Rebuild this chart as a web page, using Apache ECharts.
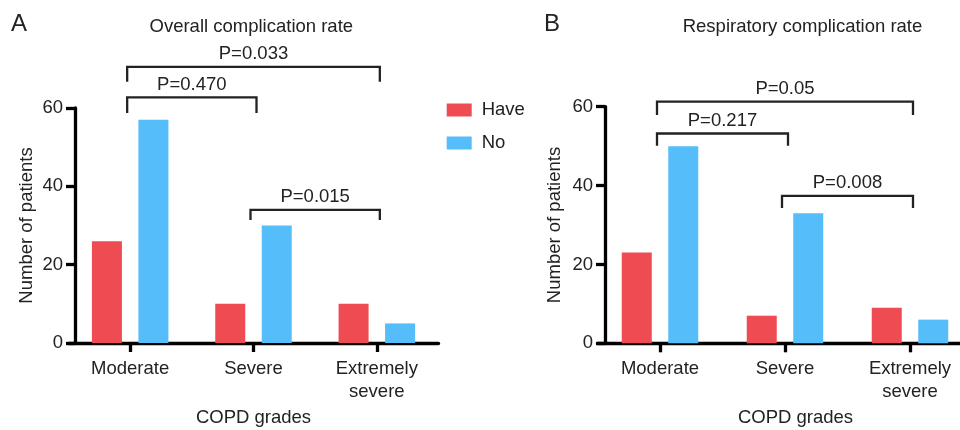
<!DOCTYPE html>
<html>
<head>
<meta charset="utf-8">
<script src="https://cdn.jsdelivr.net/npm/echarts@6/dist/echarts.min.js"></script>
<style>
html,body{margin:0;padding:0;background:#fff;}
#chart{width:960px;height:430px;}
</style>
</head>
<body>
<div id="chart"></div>
<script>
// ---- data ----
var categories = ['Moderate', 'Severe', 'Extremely\nsevere'];
var seriesNames = ['Have', 'No'];
var overallHave = [26, 10, 10];
var overallNo = [57, 30, 5];
var respHave = [23, 7, 9];
var respNo = [50, 33, 6];
var yTicks = [0, 20, 40, 60];
// brackets: [fromCategoryIndex, toCategoryIndex, barLevel, endLevel, label]
var overallBrackets = [
  [0, 2, 70.5, 66.7, 'P=0.033'],
  [0, 1, 62.7, 58.7, 'P=0.470'],
  [1, 2, 34.0, 31.4, 'P=0.015']
];
var respBrackets = [
  [0, 2, 61.3, 57.9, 'P=0.05'],
  [0, 1, 53.2, 50.1, 'P=0.217'],
  [1, 2, 37.4, 34.3, 'P=0.008']
];
var panelTitles = ['Overall complication rate', 'Respiratory complication rate'];
var panelLetters = ['A', 'B'];

var RED = '#EE4B53', BLUE = '#55BDF9', INK = '#222222';
var FONT = 'Liberation Sans, Arial, Helvetica, sans-serif';
var FS = 18.5;

var chart = echarts.init(document.getElementById('chart'), null, {renderer: 'canvas'});

function bracketRender(params, api) {
  var i0 = api.value(0), i1 = api.value(1);
  var lvl = api.value(2), end = api.value(3);
  var p0 = api.coord([i0, lvl]);
  var p1 = api.coord([i1, lvl]);
  var e0 = api.coord([i0, end]);
  var x0 = p0[0] - 3, x1 = p1[0] + 3;
  var label = api.value(4);
  return {
    type: 'group',
    children: [
      {type: 'polyline', shape: {points: [[x0, e0[1]], [x0, p0[1]], [x1, p0[1]], [x1, e0[1]]]},
       style: {stroke: INK, lineWidth: 2.3, fill: null}},
      {type: 'text', style: {text: label, x: (x0 + x1) / 2, y: p0[1] - 3, align: 'center', verticalAlign: 'bottom',
        fontSize: FS, fontFamily: FONT, fill: INK}}
    ]
  };
}

function xAxisDef(gridIndex, namePad) {
  return {
    type: 'category', gridIndex: gridIndex, data: categories,
    name: 'COPD grades', nameLocation: 'middle', nameGap: 65, nameMoveOverlap: false,
    nameTextStyle: {fontSize: FS, fontFamily: FONT, color: INK, padding: namePad},
    axisLine: {show: true, lineStyle: {color: '#000', width: 3.3}},
    axisTick: {show: true, alignWithLabel: true, length: 9, lineStyle: {color: '#000', width: 3.3}},
    axisLabel: {fontSize: FS, fontFamily: FONT, color: INK, margin: 14, lineHeight: 23, interval: 0},
    splitLine: {show: false}
  };
}
function yAxisDef(gridIndex, offset, gap) {
  return {
    type: 'value', gridIndex: gridIndex, min: yTicks[0], max: yTicks[yTicks.length - 1], interval: 20,
    offset: offset,
    name: 'Number of patients', nameLocation: 'middle', nameGap: gap, nameMoveOverlap: false,
    nameTextStyle: {fontSize: FS, fontFamily: FONT, color: INK},
    axisLine: {show: true, lineStyle: {color: '#000', width: 3.3}},
    axisTick: {show: true, length: 9, lineStyle: {color: '#000', width: 3.3}},
    axisLabel: {fontSize: FS, fontFamily: FONT, color: INK, margin: 12},
    splitLine: {show: false}
  };
}
function barSeries(name, data, color, idx) {
  return {
    type: 'bar', name: name, data: data, xAxisIndex: idx, yAxisIndex: idx,
    barWidth: 30, barGap: '55%', itemStyle: {color: color}, silent: true,
    emphasis: {disabled: true}
  };
}
function bracketSeries(data, idx) {
  return {
    type: 'custom', xAxisIndex: idx, yAxisIndex: idx, data: data, renderItem: bracketRender,
    silent: true, clip: false, z: 5,
    encode: {x: [0, 1], y: [2, 3]}
  };
}

var option = {
  backgroundColor: '#fff',
  animation: false,
  textStyle: {fontFamily: FONT},
  grid: [
    {left: 68.5, top: 108, width: 370, height: 235, outerBoundsMode: 'none', containLabel: false},
    {left: 597.5, top: 106.7, width: 375, height: 236.6, outerBoundsMode: 'none', containLabel: false}
  ],
  xAxis: [xAxisDef(0, [0, 0, 0, 0]), xAxisDef(1, [0, 0, 0, 21])],
  yAxis: [yAxisDef(0, -6.5, 39), yAxisDef(1, -7.5, 41)],
  legend: {
    data: seriesNames, orient: 'vertical', left: 441.7, top: 95,
    itemWidth: 25, itemHeight: 13, itemGap: 13, icon: 'rect',
    textStyle: {fontSize: FS, fontFamily: FONT, color: INK, lineHeight: 20, padding: [0, 0, 0, 5]},
    selectedMode: false
  },
  graphic: [
    {type: 'text', x: 11, y: 24, style: {text: panelLetters[0], fontSize: 24, fontFamily: FONT, fill: INK, verticalAlign: 'middle'}},
    {type: 'text', x: 544, y: 24, style: {text: panelLetters[1], fontSize: 24, fontFamily: FONT, fill: INK, verticalAlign: 'middle'}},
    {type: 'text', x: 251.3, y: 27, style: {text: panelTitles[0], fontSize: FS, fontFamily: FONT, fill: INK, align: 'center', verticalAlign: 'middle'}},
    {type: 'text', x: 802.5, y: 27, style: {text: panelTitles[1], fontSize: FS, fontFamily: FONT, fill: INK, align: 'center', verticalAlign: 'middle'}}
  ],
  series: [
    barSeries(seriesNames[0], overallHave, RED, 0),
    barSeries(seriesNames[1], overallNo, BLUE, 0),
    barSeries(seriesNames[0], respHave, RED, 1),
    barSeries(seriesNames[1], respNo, BLUE, 1),
    bracketSeries(overallBrackets, 0),
    bracketSeries(respBrackets, 1)
  ]
};
chart.setOption(option);
</script>
</body>
</html>
